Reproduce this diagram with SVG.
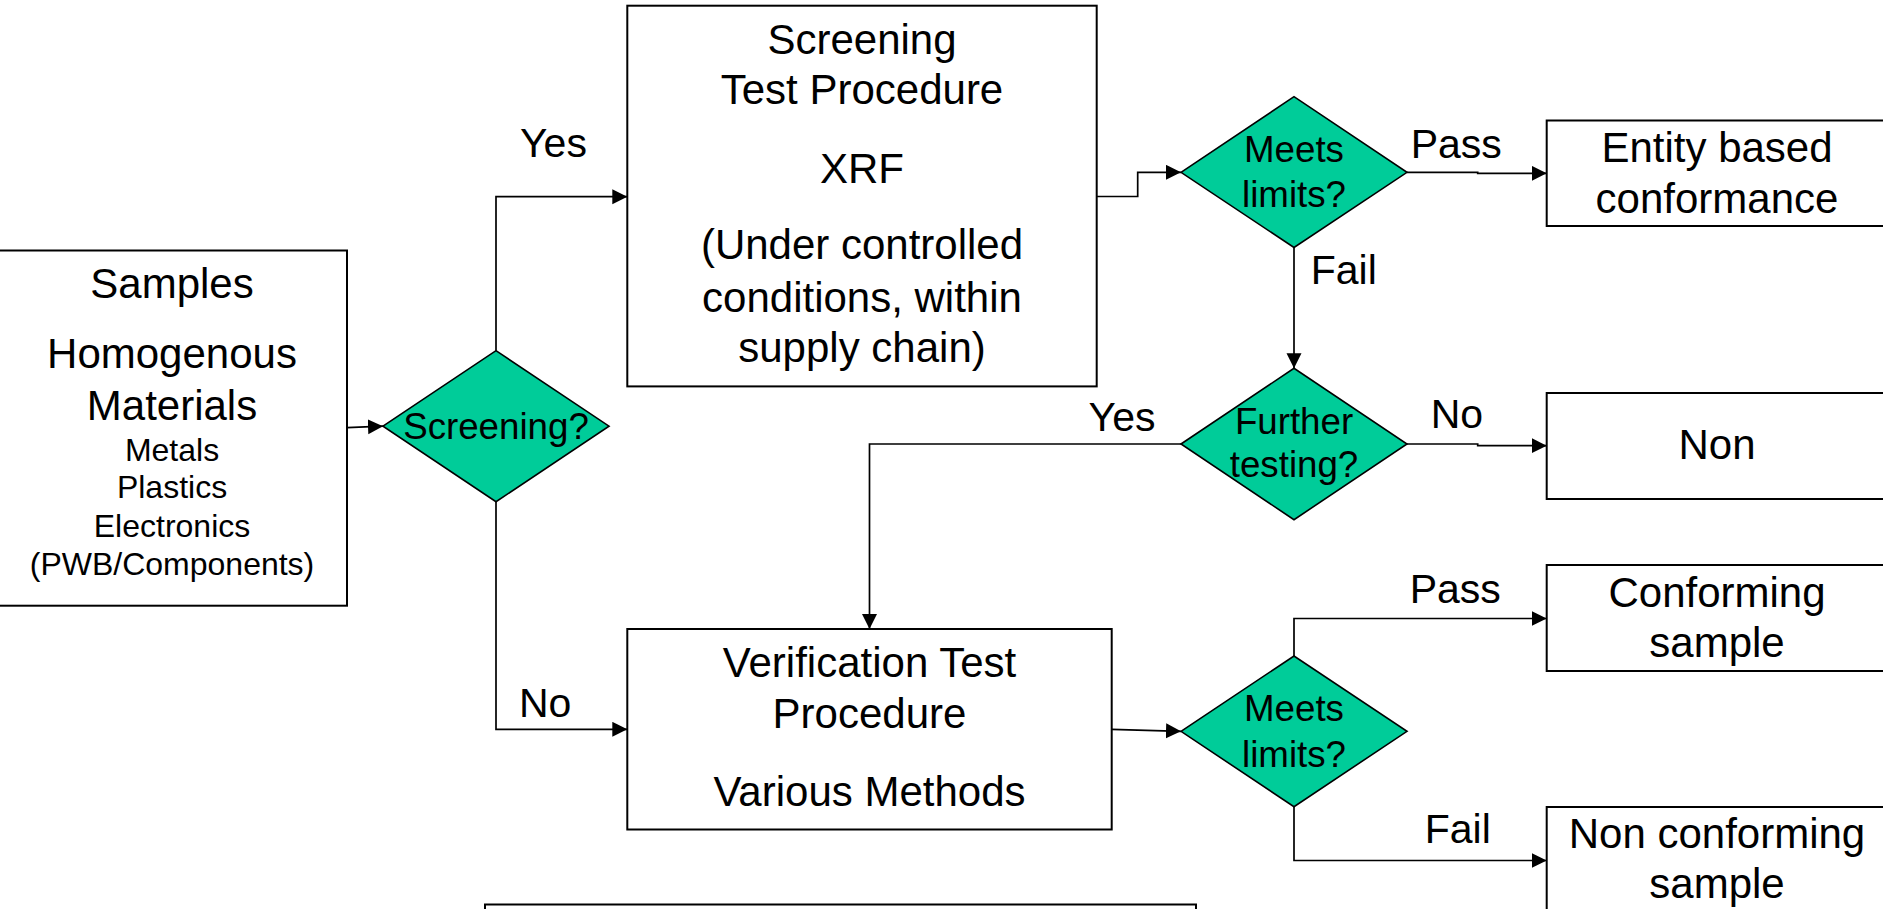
<svg xmlns="http://www.w3.org/2000/svg" width="1883" height="909" viewBox="0 0 1883 909">
  <style>
    .box { fill: #ffffff; stroke: #000000; stroke-width: 2; }
    .dia { fill: #00CC99; stroke: #000000; stroke-width: 1.6; }
    .wire { fill: none; stroke: #000000; stroke-width: 1.7; marker-end: url(#arrow); }
    text { font-family: "Liberation Sans", Arial, sans-serif; fill: #000000; }
    .big { font-size: 42px; text-anchor: middle; }
    .small { font-size: 32px; text-anchor: middle; }
    .q { font-size: 36.7px; text-anchor: middle; }
    .lbl { font-size: 41px; }
  </style>
  <defs>
    <marker id="arrow" markerUnits="userSpaceOnUse" markerWidth="16" markerHeight="16" refX="15" refY="7.5" orient="auto">
      <path d="M0,0 L15,7.5 L0,15 Z" fill="#000000"/>
    </marker>
  </defs>
  <rect width="1883" height="909" fill="#ffffff"/>

  <!-- connectors -->
  <g id="connectors">
    <path class="wire" d="M347,427.7 L383,426.2"/>
    <path class="wire" d="M496,350.7 V196.7 H627.3"/>
    <path class="wire" d="M496,501.7 V729.3 H627.3"/>
    <path class="wire" d="M1096.7,196.5 H1137.7 V172.3 H1181"/>
    <path class="wire" d="M1407,172.3 H1477.7 V173.3 H1546.7"/>
    <path class="wire" d="M1294,247.5 V368.3"/>
    <path class="wire" d="M1407,444 H1477.7 V445.7 H1546.7"/>
    <path class="wire" d="M1181,444 H869.5 V629"/>
    <path class="wire" d="M1111.7,729.3 L1181,731.3"/>
    <path class="wire" d="M1294,656 V618.5 H1546.7"/>
    <path class="wire" d="M1294,806.7 V860.5 H1546.7"/>
  </g>

  <!-- branch labels -->
  <g id="labels" class="lbl">
    <text x="520" y="156.7">Yes</text>
    <text x="519" y="717">No</text>
    <text x="1410.7" y="158.3">Pass</text>
    <text x="1310.7" y="284">Fail</text>
    <text x="1088.6" y="430.7">Yes</text>
    <text x="1430.7" y="428.3">No</text>
    <text x="1409.7" y="603.3">Pass</text>
    <text x="1424.7" y="842.7">Fail</text>
  </g>

  <g id="samples">
    <rect class="box" x="-3" y="250.5" width="350" height="355.2"/>
    <text class="big" x="172" y="298.3">Samples</text>
    <text class="big" x="172" y="368.3">Homogenous</text>
    <text class="big" x="172" y="420">Materials</text>
    <text class="small" x="172" y="460.7">Metals</text>
    <text class="small" x="172" y="498.3">Plastics</text>
    <text class="small" x="172" y="536.7">Electronics</text>
    <text class="small" x="172" y="575">(PWB/Components)</text>
  </g>

  <g id="screening-decision">
    <polygon class="dia" points="383,426.2 496,350.7 609,426.2 496,501.7"/>
    <text class="q" x="496" y="439">Screening?</text>
  </g>

  <g id="screening-procedure">
    <rect class="box" x="627.3" y="5.7" width="469.4" height="380.7"/>
    <text class="big" x="862" y="54">Screening</text>
    <text class="big" x="862" y="104">Test Procedure</text>
    <text class="big" x="862" y="182.7">XRF</text>
    <text class="big" x="862" y="259.3">(Under controlled</text>
    <text class="big" x="862" y="311.7">conditions, within</text>
    <text class="big" x="862" y="361.7">supply chain)</text>
  </g>

  <g id="screening-limits">
    <polygon class="dia" points="1181,172.3 1294,96.7 1407,172.3 1294,247.5"/>
    <text class="q" x="1294" y="161.7">Meets</text>
    <text class="q" x="1294" y="206.7">limits?</text>
  </g>

  <g id="further-testing">
    <polygon class="dia" points="1181,444 1294,368.3 1407,444 1294,519.7"/>
    <text class="q" x="1294" y="434">Further</text>
    <text class="q" x="1294" y="476.5">testing?</text>
  </g>

  <g id="entity-conformance">
    <rect class="box" x="1546.7" y="120.5" width="345" height="105.5"/>
    <text class="big" x="1717" y="161.7">Entity based</text>
    <text class="big" x="1717" y="212.7">conformance</text>
  </g>

  <g id="non">
    <rect class="box" x="1546.7" y="393" width="345" height="106"/>
    <text class="big" x="1717" y="459.3">Non</text>
  </g>

  <g id="verification-procedure">
    <rect class="box" x="627.3" y="629" width="484.4" height="200.5"/>
    <text class="big" x="869.5" y="676.9">Verification Test</text>
    <text class="big" x="869.5" y="727.5">Procedure</text>
    <text class="big" x="869.5" y="805.8">Various Methods</text>
  </g>

  <g id="verification-limits">
    <polygon class="dia" points="1181,731.3 1294,656 1407,731.3 1294,806.7"/>
    <text class="q" x="1294" y="720.7">Meets</text>
    <text class="q" x="1294" y="766.7">limits?</text>
  </g>

  <g id="conforming-sample">
    <rect class="box" x="1546.7" y="565" width="345" height="106"/>
    <text class="big" x="1717" y="606.7">Conforming</text>
    <text class="big" x="1717" y="656.7">sample</text>
  </g>

  <g id="non-conforming-sample">
    <rect class="box" x="1546.7" y="807" width="345" height="120"/>
    <text class="big" x="1717" y="848.3">Non conforming</text>
    <text class="big" x="1717" y="898.3">sample</text>
  </g>

  <g id="note">
    <rect class="box" x="485" y="904.5" width="711" height="20"/>
  </g>
</svg>
